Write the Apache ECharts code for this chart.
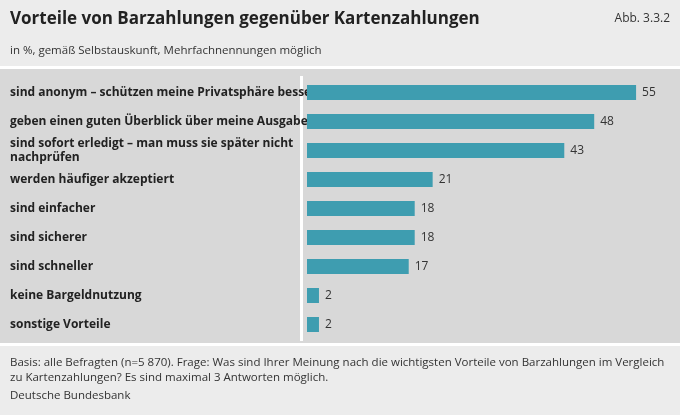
<!DOCTYPE html>
<html>
<head>
<meta charset="utf-8">
<script src="https://cdn.jsdelivr.net/npm/echarts@6/dist/echarts.min.js"></script>
<style>html,body{margin:0;padding:0;background:#ececec}#main{width:680px;height:415px}</style>
</head>
<body>
<div id="main"></div>
<script>
var categories = ['sind anonym – schützen meine Privatsphäre besser', 'geben einen guten Überblick über meine Ausgaben', 'sind sofort erledigt – man muss sie später nicht\nnachprüfen', 'werden häufiger akzeptiert', 'sind einfacher', 'sind sicherer', 'sind schneller', 'keine Bargeldnutzung', 'sonstige Vorteile'];
var values = [55, 48, 43, 21, 18, 18, 17, 2, 2];

var font = '"Open Sans", "Noto Sans", sans-serif';
var chart = echarts.init(document.getElementById('main'));
chart.setOption({
    backgroundColor: '#ececec',
    textStyle: { fontFamily: font },
    graphic: [
        { type: 'rect', z: -10, shape: { x: 0, y: 69, width: 680, height: 274 }, style: { fill: '#d8d8d8' } },
        { type: 'rect', z: -10, shape: { x: 0, y: 343, width: 680, height: 3 }, style: { fill: '#ffffff' } },
        { type: 'rect', z: -10, shape: { x: 0, y: 66, width: 680, height: 3 }, style: { fill: '#ffffff' } },
        { type: 'rect', z: -5, shape: { x: 300, y: 76, width: 3, height: 265 }, style: { fill: '#ffffff' } },
        { type: 'text', left: 10, top: 11, style: { text: 'Vorteile von Barzahlungen gegenüber Kartenzahlungen', font: 'bold 17px ' + font, fill: '#222' } },
        { type: 'text', right: 10, top: 13, style: { text: 'Abb. 3.3.2', font: '12px ' + font, fill: '#333' } },
        { type: 'text', left: 10, top: 45, style: { text: 'in %, gemäß Selbstauskunft, Mehrfachnennungen möglich', font: '11.5px ' + font, fill: '#333' } },
        { type: 'text', left: 10, top: 355, style: { text: 'Basis: alle Befragten (n=5 870). Frage: Was sind Ihrer Meinung nach die wichtigsten Vorteile von Barzahlungen im Vergleich\nzu Kartenzahlungen? Es sind maximal 3 Antworten möglich.', font: '11.5px ' + font, fill: '#333', lineHeight: 15 } },
        { type: 'text', left: 10, top: 390, style: { text: 'Deutsche Bundesbank', font: '11.5px ' + font, fill: '#333' } }
    ],
    grid: { left: 307, right: 14, top: 78, height: 261 },
    xAxis: { type: 'value', min: 0, max: 60, show: false },
    yAxis: {
        type: 'category', inverse: true, data: categories,
        axisLine: { show: false }, axisTick: { show: false },
        axisLabel: {
            align: 'left', margin: 297, color: '#222', fontWeight: 'bold',
            fontSize: 12, lineHeight: 14, fontFamily: font
        }
    },
    series: [{
        type: 'bar', data: values, barWidth: 15,
        itemStyle: { color: '#3e9db0' },
        label: { show: true, position: 'right', distance: 6, color: '#333', fontSize: 12, fontFamily: font }
    }]
});
</script>
</body>
</html>
